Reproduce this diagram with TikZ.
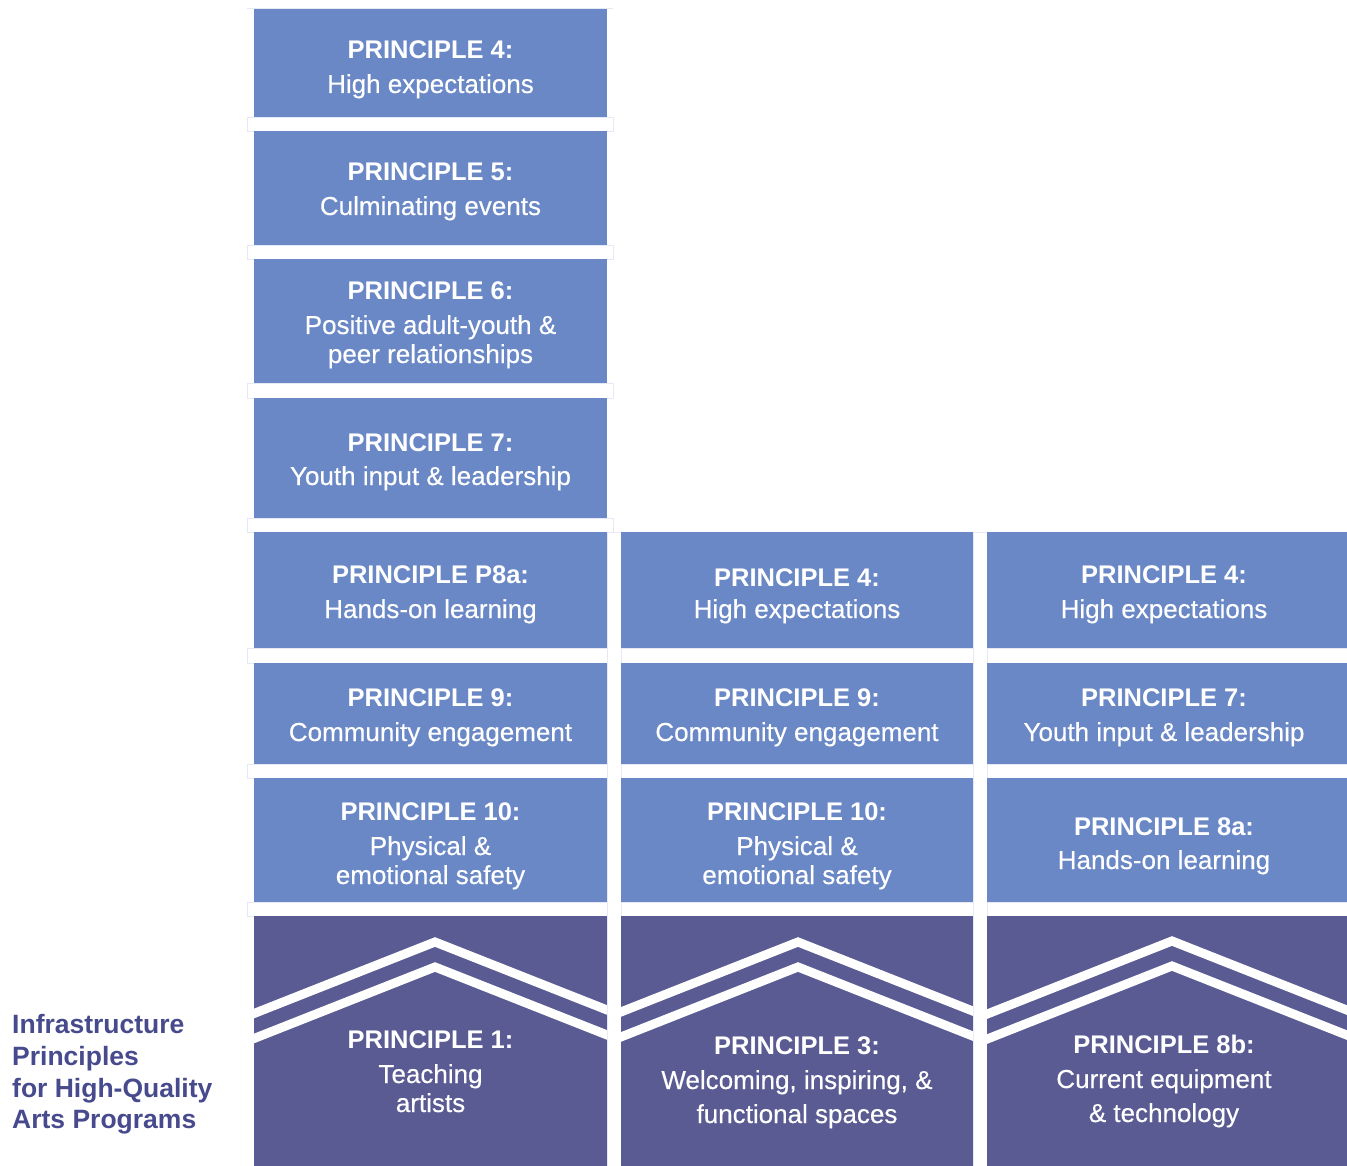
\documentclass[tikz,border=0pt]{standalone}
\usepackage{fontspec}
\setmainfont{Liberation Sans}
\newfontfamily\medfont[FakeBold=0.35]{Liberation Sans}
\definecolor{lb}{HTML}{6A88C6}
\definecolor{db}{HTML}{5A5B93}
\definecolor{lbl}{HTML}{474A8C}
\definecolor{edgec}{HTML}{E6E9F5}
\begin{document}
\begin{tikzpicture}[x=1pt,y=-1pt,
  lbox/.style={fill=lb},
  dbox/.style={fill=db},
  ttl/.style={text=white, font=\fontsize{25.5}{30}\selectfont\bfseries, anchor=base, inner sep=0pt},
  sub/.style={text=white, font=\fontsize{26}{30}\selectfont\medfont, anchor=base, inner sep=0pt},
  gapstrip/.style={fill=white, draw=edgec, line width=0.6pt},
  roof/.style={draw=white, line width=9pt, miter limit=10, line join=miter},
  lab/.style={text=lbl, font=\fontsize{26.5}{30}\selectfont\bfseries, anchor=base west, inner sep=0pt}]
\useasboundingbox (0,0) rectangle (1347,1166);
\fill[white] (0,0) rectangle (1347,1166);

% faint gap strips
\draw[gapstrip] (247,8) -- (613,8);
\foreach \a/\b in {117/131,245/259,383/398,518/532}
  \draw[gapstrip] (247,\a) rectangle (613,\b);
\foreach \a/\b in {648/663,764/778,902/916}
  \draw[gapstrip] (247,\a) rectangle (1347,\b);
\draw[gapstrip] (607,532) rectangle (621,1166);
\draw[gapstrip] (973,532) rectangle (987,1166);

% boxes
\fill[lbox] (254,9) rectangle (607,117);
\fill[lbox] (254,131) rectangle (607,245);
\fill[lbox] (254,259) rectangle (607,383);
\fill[lbox] (254,398) rectangle (607,518);
\foreach \xa/\xb in {254/607,621/973,987/1347}{
  \fill[lbox] (\xa,532) rectangle (\xb,648);
  \fill[lbox] (\xa,663) rectangle (\xb,764);
  \fill[lbox] (\xa,778) rectangle (\xb,902);
  \fill[dbox] (\xa,916) rectangle (\xb,1166);
}

% roofs
\foreach \xa/\xb/\ax/\ay in {254/607/435/942, 621/973/798/942, 987/1347/1172/941}{
  \begin{scope}
    \clip (\xa,916) rectangle (\xb,1166);
    \draw[roof] (\ax-220,\ay+86.9) -- (\ax,\ay) -- (\ax+220,\ay+86.9);
    \draw[roof] (\ax-220,\ay+25+86.9) -- (\ax,\ay+25) -- (\ax+220,\ay+25+86.9);
  \end{scope}
}

% column 1 texts
\node[ttl] (a1t) at (430.5,59) {PRINCIPLE 4:};
\node[sub] (a1s) at (430.5,93) {High expectations};
\node[ttl] (b1t) at (430.5,181) {PRINCIPLE 5:};
\node[sub] (b1s) at (430.5,215) {Culminating events};
\node[ttl] (c1t) at (430.5,300) {PRINCIPLE 6:};
\node[sub] (c1s) at (430.5,334) {Positive adult-youth \&};
\node[sub] (c1u) at (430.5,363) {peer relationships};
\node[ttl] (d1t) at (430.5,451) {PRINCIPLE 7:};
\node[sub] (d1s) at (430.5,485) {Youth input \& leadership};
\node[ttl] (e1t) at (430.5,583) {PRINCIPLE P8a:};
\node[sub] (e1s) at (430.5,618) {Hands-on learning};
\node[ttl] (f1t) at (430.5,706) {PRINCIPLE 9:};
\node[sub] (f1s) at (430.5,741) {Community engagement};
\node[ttl] (g1t) at (430.5,820) {PRINCIPLE 10:};
\node[sub] (g1s) at (430.5,855) {Physical \&};
\node[sub] (g1u) at (430.5,884) {emotional safety};
\node[ttl] (h1t) at (430.5,1048) {PRINCIPLE 1:};
\node[sub] (h1s) at (430.5,1083) {Teaching};
\node[sub] (h1u) at (430.5,1112) {artists};

% column 2 texts
\node[ttl] (e2t) at (797,586) {PRINCIPLE 4:};
\node[sub] (e2s) at (797,618) {High expectations};
\node[ttl] (f2t) at (797,706) {PRINCIPLE 9:};
\node[sub] (f2s) at (797,741) {Community engagement};
\node[ttl] (g2t) at (797,820) {PRINCIPLE 10:};
\node[sub] (g2s) at (797,855) {Physical \&};
\node[sub] (g2u) at (797,884) {emotional safety};
\node[ttl] (h2t) at (797,1054) {PRINCIPLE 3:};
\node[sub] (h2s) at (797,1089) {Welcoming, inspiring, \&};
\node[sub] (h2u) at (797,1123) {functional spaces};

% column 3 texts
\node[ttl] (e3t) at (1164,583) {PRINCIPLE 4:};
\node[sub] (e3s) at (1164,618) {High expectations};
\node[ttl] (f3t) at (1164,706) {PRINCIPLE 7:};
\node[sub] (f3s) at (1164,741) {Youth input \& leadership};
\node[ttl] (g3t) at (1164,835) {PRINCIPLE 8a:};
\node[sub] (g3s) at (1164,869) {Hands-on learning};
\node[ttl] (h3t) at (1164,1053) {PRINCIPLE 8b:};
\node[sub] (h3s) at (1164,1088) {Current equipment};
\node[sub] (h3u) at (1164,1122) {\& technology};

% left label
\node[lab] (l1) at (12,1033) {Infrastructure};
\node[lab] (l2) at (12,1065) {Principles};
\node[lab] (l3) at (12,1097) {for High-Quality};
\node[lab] (l4) at (12,1128) {Arts Programs};
\end{tikzpicture}
\end{document}
